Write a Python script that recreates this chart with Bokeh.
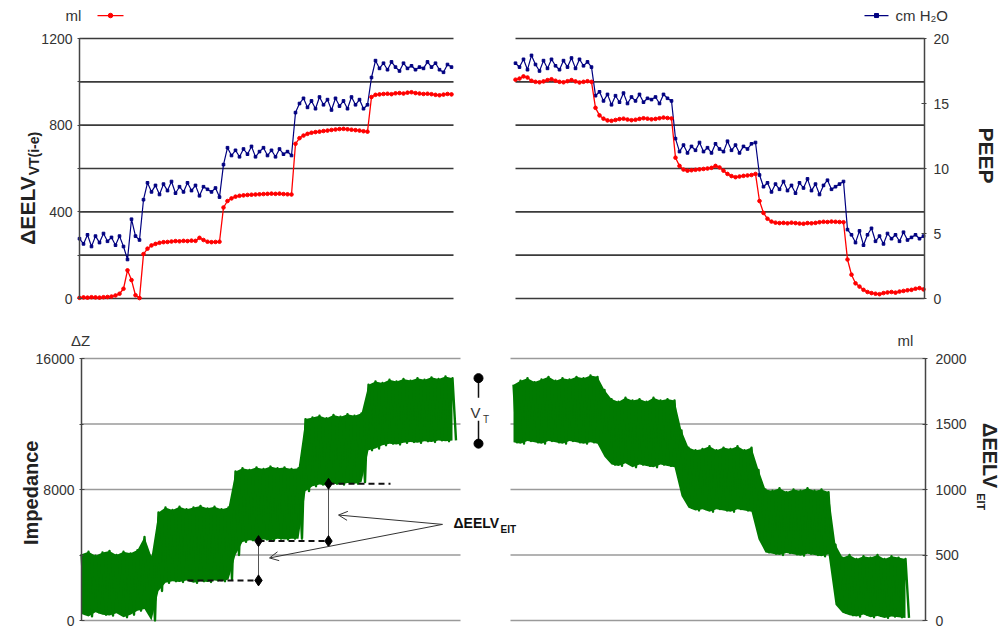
import numpy as np
from bokeh.plotting import figure
from bokeh.models import Range1d, LinearAxis, Label, Arrow, OpenHead, FixedTicker
from bokeh.layouts import column
from bokeh.embed import file_html
from bokeh.resources import INLINE

FONT = "Liberation Sans"
RED = "#FF0000"
NAVY = "#000080"
GREEN = "#007A00"

# ---------------- data ----------------
# upper panels: ΔEELV (ml) and PEEP (cm H2O), incremental (left) and decremental (right) trial
top_left_ml = [3, 5, 4, 6, 5, 4, 6, 7, 9, 14, 22, 45, 130, 85, 15, 2,
               205, 230, 245, 252, 257, 260, 261, 263, 265, 264, 266, 265, 267, 266, 280, 270, 262, 260, 261, 262,
               420, 450, 462, 470, 474, 476, 478, 479, 480, 481, 482, 483, 484, 483, 484, 482, 481, 480,
               714, 740, 752, 760, 765, 768, 770, 773, 775, 778, 780, 782, 783, 781, 779, 777, 775, 772, 770,
               930, 940, 942, 944, 945, 943, 947, 948, 946, 950, 952, 948, 946, 944, 945, 943, 940, 938, 941, 944, 942]
top_left_peep = [4.6, 4.2, 4.9, 4.0, 4.8, 4.3, 5.0, 4.4, 4.7, 4.1, 4.8, 4.0, 3.0, 6.1, 4.8, 4.5,
                 7.6,
                 8.9, 8.2, 8.7, 8.0, 8.8, 8.3, 9.0, 8.1, 8.6, 8.2, 8.9, 8.3, 8.7, 7.9, 8.6, 8.4, 8.2, 8.5, 7.8,
                 10.3,
                 11.6, 11.0, 11.4, 10.9, 11.5, 11.1, 11.7, 10.9, 11.3, 11.6, 11.0, 11.4, 10.9, 11.5, 11.1, 11.3, 11.0,
                 14.3, 15.0,
                 15.4, 14.7, 15.2, 14.6, 15.5, 14.9, 15.3, 14.5, 15.4, 14.8, 15.2, 14.6, 15.5, 14.9, 15.3, 14.6,
                 14.9, 17.0,
                 18.3, 17.7, 18.1, 17.6, 18.2, 17.8, 17.5, 18.1, 17.7, 17.9, 17.6, 17.8, 17.7, 18.2, 17.8, 18.1, 17.6, 17.4, 18.0, 17.8]
top_right_ml = [1010, 1015, 1025, 1020, 1005, 1000, 998, 1002, 1008, 1012, 1005, 1000, 998, 1003, 1008, 1002, 997, 1000, 1003, 1000,
                880, 845, 830, 822, 820, 824, 828, 830, 826, 823, 825, 829, 832, 830, 827, 829, 832, 835, 833, 831,
                650, 612, 595, 590, 592, 594, 596, 598, 600, 603, 612, 605, 590, 575, 565, 560, 563, 566, 568, 570, 575,
                450, 395, 368, 355, 350, 348, 349, 347, 350, 348, 346, 345, 348, 347, 349, 352, 354, 353, 355, 354, 353, 352,
                180, 110, 70, 55, 40, 30, 25, 22, 20, 25, 28, 30, 27, 32, 35, 38, 40, 45, 48, 42]
top_right_peep = [18.1, 17.8, 18.4, 17.6, 18.7, 18.0, 17.5, 18.3, 17.7, 18.4, 17.9, 17.6, 18.3, 17.8, 18.5, 17.7, 18.4, 17.9, 18.2, 17.8,
                  15.6, 15.9, 15.2, 15.7, 14.9, 15.6, 15.1, 15.8, 15.0, 15.5, 15.2, 15.7, 15.1, 15.4, 15.3, 15.5, 15.0, 15.7, 15.4, 15.2,
                  12.3, 11.3, 11.8, 11.2, 11.7, 11.4, 12.0, 11.3, 11.6, 11.2, 11.9, 11.5, 11.3, 12.1, 11.4, 11.8, 11.2, 11.7, 11.5, 11.9, 12.0,
                  9.5, 8.6, 8.9, 8.2, 8.8, 8.4, 9.0, 8.3, 8.7, 8.1, 8.9, 8.5, 9.2, 8.3, 8.8, 8.0, 8.7, 9.1, 8.4, 8.6, 8.8, 9.0,
                  5.3, 4.9, 4.3, 5.2, 4.1, 4.9, 5.4, 4.4, 4.8, 4.2, 5.0, 4.6, 4.9, 4.4, 5.1, 4.5, 4.7, 4.9, 4.6, 4.8]

# lower panels: impedance (ΔZ, left) and ΔEELV_EIT (ml, right), breath peaks and troughs
imp_left_peak = [4050, 4200, 3950, 4150, 4250, 4000, 4200, 4100, 4300, 5100, 3900, 6600,
                 6900, 6750, 6950, 6800, 6900, 7000, 6850, 6950, 6800, 6900,
                 9100, 9300, 9200, 9350, 9250, 9400, 9300, 9350, 9250, 9300,
                 12300, 12400, 12500, 12350, 12550, 12450, 12600, 12500, 12650,
                 14400, 14600, 14500, 14700, 14600, 14750, 14650, 14800, 14700, 14850, 14750, 14900, 14800]
imp_left_trough = [400, 250, 500, 350, 300, 450, 200, 350, 600, 700, 0, 1800,
                   2300, 2400, 2350, 2450, 2300, 2400, 2350, 2450, 2400, 2500,
                   4000, 4800, 4900, 4850, 4950, 4900, 5000, 4950, 5000, 5000,
                   7900, 8200, 8300, 8250, 8350, 8300, 8400, 8350, 8450,
                   10400, 10500, 10700, 10800, 10750, 10850, 10900, 10850, 10950, 10900, 11000, 10950, 11000]
eit_right_peak = [1800, 1830, 1850, 1820, 1840, 1860, 1830, 1850, 1840, 1860, 1850, 1870, 1860,
                  1760,
                  1690, 1670, 1700, 1680, 1690, 1670, 1700, 1680, 1690, 1680,
                  1450,
                  1320, 1300, 1310, 1330, 1300, 1320, 1310, 1330, 1300, 1320,
                  1150,
                  1000, 990, 1010, 980, 1000, 990, 1010, 990, 1000, 980,
                  580,
                  480, 500, 470, 490, 480, 500, 470, 490, 480, 470]
eit_right_trough = [1360, 1350, 1370, 1360, 1350, 1370, 1360, 1350, 1370, 1360, 1350, 1360, 1350,
                    1250,
                    1190, 1180, 1200, 1170, 1190, 1180, 1170, 1190, 1180, 1170,
                    950,
                    860, 840, 850, 830, 850, 840, 830, 850, 840, 830,
                    620,
                    520, 510, 500, 515, 505, 495, 510, 500, 490, 505,
                    120,
                    60, 40, 30, 45, 25, 35, 20, 30, 25, 20]

# annotation values (end-expiratory impedance levels and one tidal swing)
eelv_levels = [2450, 4850, 8350]
eelv_marker_times = [108, 179, 249, 311]
vt_levels = [14800, 10800]

# recording times (arbitrary time units, continuous across the figure)
top_left_time = np.linspace(0, 372, len(top_left_ml))
top_right_time = np.linspace(436, 844, len(top_right_ml))
imp_left_time = np.linspace(2, 373, len(imp_left_peak))
imp_right_time = np.linspace(434, 826, len(eit_right_peak))
half_breath = 3.5

top_grid_levels = [0, 200, 400, 600, 800, 1000, 1200]
top_spans = [(0, 374), (436, 845)]
bot_grid_levels = [0, 4000, 8000, 12000, 16000]
bot_spans = [(2, 381), (431, 846)]

W = 1005
X_RANGE = (-79, W - 79)


def style_axis(ax, ticks, minor, bounds, standoff):
    ax.ticker = FixedTicker(ticks=ticks, minor_ticks=minor)
    ax.bounds = bounds
    ax.axis_line_color = "#444444"
    ax.axis_line_width = 1.5
    ax.major_tick_line_color = "#444444"
    ax.major_tick_in = 3
    ax.major_tick_out = 2
    ax.minor_tick_line_color = "#444444"
    ax.minor_tick_in = 2
    ax.minor_tick_out = 2
    ax.major_label_text_font = FONT
    ax.major_label_text_font_size = "14px"
    ax.major_label_text_color = "#333333"
    ax.major_label_standoff = standoff


def lab(p, x, y, text, size, bold=False, angle=0.0, align="center", rng="default", color="#222222"):
    p.add_layout(Label(x=x, y=y, text=text, text_font=FONT, text_font_size=size,
                       text_font_style="bold" if bold else "normal", angle=angle,
                       text_align=align, text_baseline="middle", text_color=color,
                       y_range_name=rng))


def bare_figure(height, yr):
    p = figure(width=W, height=height, x_range=Range1d(*X_RANGE), y_range=Range1d(*yr),
               output_backend="svg", toolbar_location=None,
               x_axis_location=None, y_axis_location=None,
               min_border_left=0, min_border_right=0, min_border_top=0, min_border_bottom=0)
    p.grid.visible = False
    p.outline_line_color = None
    return p


# ---------------- top figure ----------------
# canvas rows: 0 ml at 298 px from the top, 1200 ml at 38 px
TOP_H = 318
top_px = 260 / 1200
top = bare_figure(TOP_H, (-(TOP_H - 298) / top_px, 298 / top_px))
top.extra_y_ranges = {"peep": Range1d(-(TOP_H - 298) / (260 / 20), 298 / (260 / 20))}
lax = LinearAxis(fixed_location=0)
style_axis(lax, [0, 400, 800, 1200], [200, 600, 1000], (0, 1200), 5)
top.add_layout(lax, "left")
rax = LinearAxis(y_range_name="peep", fixed_location=845)
style_axis(rax, [0, 5, 10, 15, 20], [], (0, 20), 7)
top.add_layout(rax, "right")

gx0 = [a for (a, b) in top_spans for _ in top_grid_levels]
gx1 = [b for (a, b) in top_spans for _ in top_grid_levels]
gy = [lv for _ in top_spans for lv in top_grid_levels]
top.segment(x0=gx0, y0=gy, x1=gx1, y1=gy, line_color="#3a3a3a", line_width=1.6)

for t, ml, pe in [(top_left_time, top_left_ml, top_left_peep), (top_right_time, top_right_ml, top_right_peep)]:
    top.line(t, pe, line_color=NAVY, line_width=1.2, y_range_name="peep")
    top.scatter(t, pe, marker="square", size=2.6, color=NAVY, y_range_name="peep")
    top.line(t, ml, line_color=RED, line_width=1.3)
    top.scatter(t, ml, marker="circle", size=3.6, color=RED)

# legend samples
LEG_ML = 1306
LEG_PE = LEG_ML / 60
top.line([18, 44], [LEG_ML, LEG_ML], line_color=RED, line_width=1.3)
top.scatter([31], [LEG_ML], marker="circle", size=4.5, color=RED)
top.line([785, 809], [LEG_PE, LEG_PE], line_color=NAVY, line_width=1.3, y_range_name="peep")
top.scatter([797], [LEG_PE], marker="square", size=4, color=NAVY, y_range_name="peep")
lab(top, -6, LEG_ML, "ml", "15px", color="#333333")
lab(top, 816, LEG_PE, "cm H₂O", "15px", align="left", rng="peep", color="#333333")

lab(top, -52, 406, "ΔEELV", "21px", bold=True, angle=np.pi / 2)
lab(top, -46, 669, "VT(i-e)", "14px", bold=True, angle=np.pi / 2)
lab(top, 907, 660, "PEEP", "21px", bold=True, angle=-np.pi / 2)

# ---------------- bottom figure ----------------
# canvas rows: 0 at 302 px from the top, 16000 at 40 px
BOT_H = 310
bot_px = 262 / 16000
bot = bare_figure(BOT_H, (-(BOT_H - 302) / bot_px, 302 / bot_px))
bot.extra_y_ranges = {"ml": Range1d(-(BOT_H - 302) / (262 / 2000), 302 / (262 / 2000))}
lax2 = LinearAxis(fixed_location=2)
style_axis(lax2, [0, 8000, 16000], [4000, 12000], (0, 16000), 5)
bot.add_layout(lax2, "left")
rax2 = LinearAxis(y_range_name="ml", fixed_location=846)
style_axis(rax2, [0, 500, 1000, 1500, 2000], [], (0, 2000), 8)
bot.add_layout(rax2, "right")

bx0 = [a for (a, b) in bot_spans for _ in bot_grid_levels]
bx1 = [b for (a, b) in bot_spans for _ in bot_grid_levels]
by = [lv for _ in bot_spans for lv in bot_grid_levels]
bot.segment(x0=bx0, y0=by, x1=bx1, y1=by, line_color="#9a9a9a", line_width=1.5)

for t, pk, tr, rng in [(imp_left_time, imp_left_peak, imp_left_trough, "default"),
                       (imp_right_time, eit_right_peak, eit_right_trough, "ml")]:
    t = np.asarray(t)
    bot.varea(x=t, y1=tr, y2=pk, fill_color=GREEN, y_range_name=rng)
    zx = np.column_stack([t, t + half_breath]).ravel()
    zy = np.column_stack([pk, tr]).ravel()
    bot.line(zx, zy, line_color=GREEN, line_width=2.4, line_join="round", y_range_name=rng)

# ΔEELV_EIT annotation
bot.segment(x0=eelv_marker_times[:-1], y0=eelv_levels, x1=eelv_marker_times[1:], y1=eelv_levels,
            line_color="#111111", line_width=2, line_dash="6 4")
bot.segment(x0=eelv_marker_times[1:3], y0=eelv_levels[:2], x1=eelv_marker_times[1:3], y1=eelv_levels[1:],
            line_color="#555555", line_width=1)
bot.scatter([eelv_marker_times[1], eelv_marker_times[1], eelv_marker_times[2], eelv_marker_times[2]],
            [eelv_levels[0], eelv_levels[1], eelv_levels[1], eelv_levels[2]],
            marker="diamond", size=11, color="#000000")
for xe, ye in [(259, 6440), (190, 3820)]:
    bot.add_layout(Arrow(end=OpenHead(size=9, line_color="#333333", line_width=1),
                         x_start=363, y_start=5870, x_end=xe, y_end=ye,
                         line_color="#333333", line_width=1))
lab(bot, 374, 5965, "ΔEELV", "14px", bold=True, align="left", color="#111111")
lab(bot, 421, 5560, "EIT", "10px", bold=True, align="left", color="#111111")

# V_T annotation
bot.segment(x0=[399, 399], y0=[vt_levels[0], 12200], x1=[399, 399], y1=[13600, vt_levels[1]],
            line_color="#111111", line_width=1.5)
bot.scatter([399, 399], vt_levels, marker="circle", size=9, color="#000000")
lab(bot, 396, 12700, "V", "15px", color="#333333")
lab(bot, 406.5, 12260, "T", "10px", color="#333333")

lab(bot, 1, 17100, "ΔZ", "15px", color="#333333")
lab(bot, 826, 17100, "ml", "15px", color="#333333")
lab(bot, -49, 7800, "Impedance", "20px", bold=True, angle=np.pi / 2)
lab(bot, 910, 10070, "ΔEELV", "20px", bold=True, angle=-np.pi / 2)
lab(bot, 901, 7250, "EIT", "11px", bold=True, angle=-np.pi / 2)

layout = column(top, bot)
open("out.html", "w").write(file_html(layout, INLINE, title="EELV"))
